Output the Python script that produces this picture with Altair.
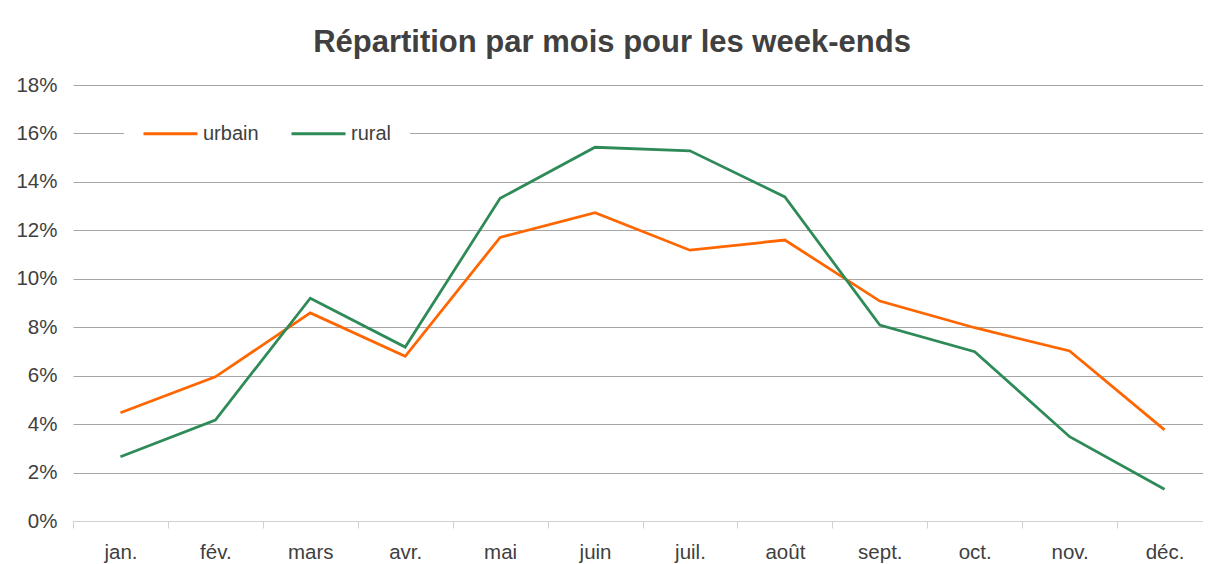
import altair as alt
import pandas as pd

months = ["jan.", "fév.", "mars", "avr.", "mai", "juin", "juil.", "août", "sept.", "oct.", "nov.", "déc."]
urbain = [0.0447, 0.0595, 0.0859, 0.0680, 0.1171, 0.1273, 0.1118, 0.1160, 0.0908, 0.0798, 0.0702, 0.0376]
rural = [0.0265, 0.0417, 0.0920, 0.0718, 0.1332, 0.1543, 0.1528, 0.1338, 0.0809, 0.0699, 0.0348, 0.0131]
series = ["urbain", "rural"]
y_ticks = [0, 0.02, 0.04, 0.06, 0.08, 0.10, 0.12, 0.14, 0.16, 0.18]

rows = []
for m, u, r in zip(months, urbain, rural):
    rows.append({"mois": m, "serie": "urbain", "valeur": u})
    rows.append({"mois": m, "serie": "rural", "valeur": r})
df = pd.DataFrame(rows)

FONT = "Liberation Sans"
TXT = "#404040"

chart = alt.Chart(df).mark_line(strokeWidth=2.75).encode(
    x=alt.X("mois:N", sort=months,
            scale=alt.Scale(type="band", paddingInner=0, paddingOuter=0, range=[0, 1139]),
            axis=alt.Axis(title=None, tickBand="extent", ticks=True, tickSize=7,
                          tickColor="#D0D0D0", domainColor="#D0D0D0", labelAngle=0,
                          labelFontSize=20.5, labelPadding=14, grid=False, zindex=1,
                          labelColor=TXT, labelFont=FONT)),
    y=alt.Y("valeur:Q", scale=alt.Scale(domain=[0, 0.18], nice=False),
            axis=alt.Axis(title=None, format=".0%", values=y_ticks, grid=True,
                          gridColor="#A6A6A6", domain=False, ticks=False,
                          labelPadding=16, labelFontSize=20.5, labelColor=TXT, labelFont=FONT)),
    color=alt.Color("serie:N", sort=series,
                    scale=alt.Scale(domain=series, range=["#FF6600", "#2E8B57"]),
                    legend=alt.Legend(title=None, orient="none", legendX=51, legendY=2,
                                      direction="horizontal", symbolType="stroke",
                                      symbolSize=2916, symbolStrokeWidth=3,
                                      labelFontSize=20, labelFont=FONT, labelColor=TXT,
                                      fillColor="white", padding=18, columnPadding=26,
                                      labelOffset=4)),
).properties(
    width=1130, height=436,
    title=alt.TitleParams("Répartition par mois pour les week-ends", font=FONT,
                          fontSize=31, fontWeight="bold", color=TXT, dx=-26, offset=16),
    autosize=alt.AutoSizeParams(type="none"),
    padding={"left": 65, "top": 77, "right": 0, "bottom": 43},
).configure_view(stroke=None)

chart.save("out.html", embed_options={"renderer": "svg", "actions": False})
